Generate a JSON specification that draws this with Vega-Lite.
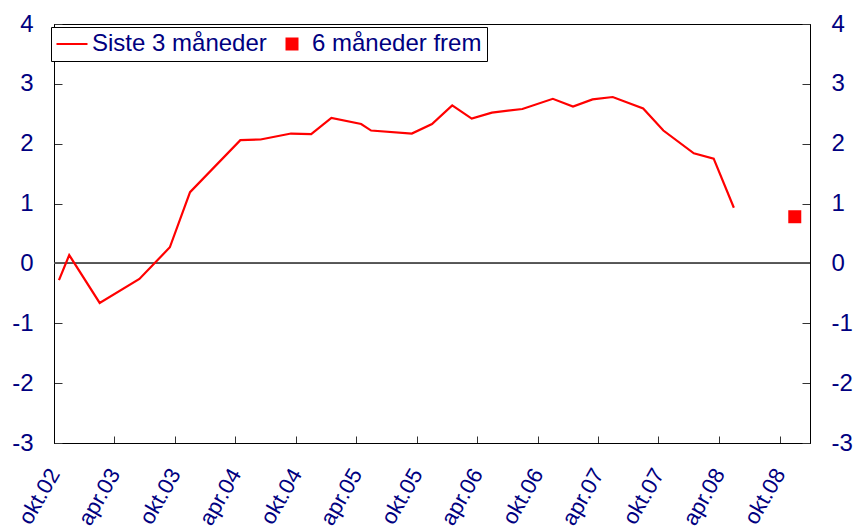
{
  "$schema": "https://vega.github.io/schema/vega-lite/v6.json",
  "width": 756,
  "height": 419,
  "autosize": "none",
  "padding": {"left": 54, "top": 24, "right": 48, "bottom": 89},
  "background": "white",
  "config": {
    "font": "Liberation Sans",
    "view": {"stroke": "black", "strokeWidth": 1},
    "axis": {"grid": false, "domainColor": "black", "tickColor": "#333333", "labelColor": "#000080", "labelFont": "Liberation Sans", "title": null}
  },
  "data": {
    "values": [
      {"date": "2002-10-16", "v": -0.28, "serie": "Siste 3 måneder"},
      {"date": "2002-11-16", "v": 0.14, "serie": "Siste 3 måneder"},
      {"date": "2003-02-16", "v": -0.66, "serie": "Siste 3 måneder"},
      {"date": "2003-06-16", "v": -0.26, "serie": "Siste 3 måneder"},
      {"date": "2003-09-16", "v": 0.27, "serie": "Siste 3 måneder"},
      {"date": "2003-11-16", "v": 1.19, "serie": "Siste 3 måneder"},
      {"date": "2004-04-16", "v": 2.06, "serie": "Siste 3 måneder"},
      {"date": "2004-06-16", "v": 2.07, "serie": "Siste 3 måneder"},
      {"date": "2004-09-16", "v": 2.17, "serie": "Siste 3 måneder"},
      {"date": "2004-11-16", "v": 2.16, "serie": "Siste 3 måneder"},
      {"date": "2005-01-16", "v": 2.43, "serie": "Siste 3 måneder"},
      {"date": "2005-04-16", "v": 2.33, "serie": "Siste 3 måneder"},
      {"date": "2005-05-16", "v": 2.22, "serie": "Siste 3 måneder"},
      {"date": "2005-09-16", "v": 2.17, "serie": "Siste 3 måneder"},
      {"date": "2005-11-16", "v": 2.33, "serie": "Siste 3 måneder"},
      {"date": "2006-01-16", "v": 2.64, "serie": "Siste 3 måneder"},
      {"date": "2006-03-16", "v": 2.42, "serie": "Siste 3 måneder"},
      {"date": "2006-05-16", "v": 2.52, "serie": "Siste 3 måneder"},
      {"date": "2006-08-16", "v": 2.58, "serie": "Siste 3 måneder"},
      {"date": "2006-11-16", "v": 2.75, "serie": "Siste 3 måneder"},
      {"date": "2007-01-16", "v": 2.62, "serie": "Siste 3 måneder"},
      {"date": "2007-03-16", "v": 2.74, "serie": "Siste 3 måneder"},
      {"date": "2007-05-16", "v": 2.78, "serie": "Siste 3 måneder"},
      {"date": "2007-08-16", "v": 2.59, "serie": "Siste 3 måneder"},
      {"date": "2007-10-16", "v": 2.22, "serie": "Siste 3 måneder"},
      {"date": "2008-01-16", "v": 1.84, "serie": "Siste 3 måneder"},
      {"date": "2008-03-16", "v": 1.75, "serie": "Siste 3 måneder"},
      {"date": "2008-05-16", "v": 0.93, "serie": "Siste 3 måneder"},
      {"date": "2008-11-16", "v": 0.78, "serie": "6 måneder frem"}
    ]
  },
  "layer": [
    {
      "mark": {"type": "rule", "color": "#555555", "strokeWidth": 1},
      "encoding": {
        "y": {"datum": 0, "type": "quantitative", "scale": {"domain": [-3, 4], "nice": false, "zero": false}, "axis": null}
      }
    },
    {
      "transform": [{"filter": "datum.serie === 'Siste 3 måneder'"}],
      "mark": {"type": "line", "strokeWidth": 2.2},
      "encoding": {
        "x": {
          "field": "date", "type": "temporal",
          "scale": {"type": "utc", "domain": [{"year": 2002, "month": 10, "date": 1, "utc": true}, {"year": 2009, "month": 1, "date": 1, "utc": true}]},
          "axis": {
            "values": [
              {"year": 2002, "month": 10, "date": 1, "utc": true},
              {"year": 2003, "month": 4, "date": 1, "utc": true},
              {"year": 2003, "month": 10, "date": 1, "utc": true},
              {"year": 2004, "month": 4, "date": 1, "utc": true},
              {"year": 2004, "month": 10, "date": 1, "utc": true},
              {"year": 2005, "month": 4, "date": 1, "utc": true},
              {"year": 2005, "month": 10, "date": 1, "utc": true},
              {"year": 2006, "month": 4, "date": 1, "utc": true},
              {"year": 2006, "month": 10, "date": 1, "utc": true},
              {"year": 2007, "month": 4, "date": 1, "utc": true},
              {"year": 2007, "month": 10, "date": 1, "utc": true},
              {"year": 2008, "month": 4, "date": 1, "utc": true},
              {"year": 2008, "month": 10, "date": 1, "utc": true}
            ],
            "labelExpr": "(utcFormat(datum.value, '%m') === '10' ? 'okt.' : 'apr.') + utcFormat(datum.value, '%y')",
            "labelAngle": -60,
            "labelFontSize": 22,
            "tickSize": -7,
            "labelPadding": 34,
            "labelOverlap": false,
            "labelFlush": false
          }
        },
        "y": {
          "field": "v", "type": "quantitative",
          "scale": {"domain": [-3, 4], "nice": false, "zero": false},
          "axis": {"orient": "left", "values": [-3, -2, -1, 0, 1, 2, 3, 4], "labelExpr": "datum.value < 0 ? '-' + abs(datum.value) : '' + datum.value", "labelFontSize": 24, "tickSize": -8, "labelPadding": 29}
        },
        "color": {
          "field": "serie", "type": "nominal",
          "scale": {"domain": ["Siste 3 måneder", "6 måneder frem"], "range": ["#ff0000", "#ff0000"]},
          "legend": {
            "orient": "none", "legendX": -3, "legendY": 3,
            "direction": "horizontal", "columns": 2, "title": null,
            "labelFont": "Liberation Sans", "labelFontSize": 24, "labelColor": "#000080", "labelLimit": 0,
            "symbolSize": 961, "symbolType": "stroke", "symbolStrokeWidth": 2, "symbolOffset": 4,
            "labelOffset": 8, "columnPadding": 9, "padding": 5,
            "strokeColor": "black", "fillColor": "white",
            "encode": {
              "symbols": {
                "update": {
                  "shape": {"signal": "datum.value === 'Siste 3 måneder' ? 'stroke' : 'square'"},
                  "size": {"signal": "datum.value === 'Siste 3 måneder' ? 961 : 169"},
                  "strokeWidth": {"signal": "datum.value === 'Siste 3 måneder' ? 2 : 0"},
                  "fill": {"value": "#ff0000"},
                  "stroke": {"value": "#ff0000"},
                  "opacity": {"value": 1}
                }
              }
            }
          }
        }
      }
    },
    {
      "transform": [{"filter": "datum.serie === '6 måneder frem'"}],
      "mark": {"type": "square", "size": 169, "filled": true, "opacity": 1},
      "encoding": {
        "x": {"field": "date", "type": "temporal"},
        "y": {
          "field": "v", "type": "quantitative",
          "axis": {"orient": "right", "values": [-3, -2, -1, 0, 1, 2, 3, 4], "labelExpr": "datum.value < 0 ? '-' + abs(datum.value) : '' + datum.value", "labelFontSize": 24, "tickSize": -8, "labelPadding": 29}
        },
        "color": {"field": "serie", "type": "nominal"}
      }
    }
  ],
  "resolve": {"axis": {"y": "independent"}}
}
